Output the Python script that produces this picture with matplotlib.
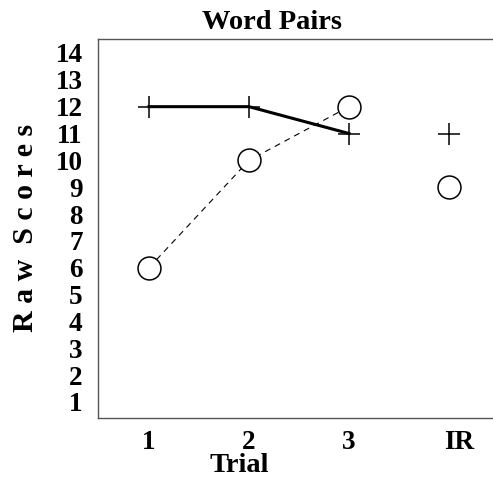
import matplotlib
matplotlib.use("Agg")
import matplotlib.pyplot as plt
import matplotlib.transforms as mtransforms

# Data
trials = ["1", "2", "3", "IR"]
x_pos = [1, 2, 3, 4]
plus_scores = [12, 12, 11, 11]
circle_scores = [6, 10, 12, 9]

plt.rcParams['font.family'] = ['Liberation Serif', 'DejaVu Serif']
plt.rcParams['font.weight'] = 'bold'

W, H = 493, 478
fig = plt.figure(figsize=(W / 100, H / 100), dpi=100)
# axes runs a bit past the right edge of the image, like the original
ax = fig.add_axes([98 / W, 60 / H, 402 / W, 379 / H])

# connected lines for trials 1-3 only
ax.plot(x_pos[:3], plus_scores[:3], color='black', linewidth=2.2, zorder=2)
ax.plot(x_pos[:3], circle_scores[:3], color='black', linewidth=0.8,
        linestyle=(0, (5.4, 4.5)), zorder=2)

# markers
ax.plot(x_pos, plus_scores, linestyle='none', marker='+', markersize=16.5,
        markeredgewidth=1.1, color='black', zorder=3)
ax.plot(x_pos, circle_scores, linestyle='none', marker='o', markersize=16.5,
        markeredgewidth=1.1, markerfacecolor='white', markeredgecolor='black', zorder=3)

ax.set_xlim(0.49, 4.51)
ax.set_ylim(0.404, 14.52)
ax.set_xticks(x_pos)
ax.set_xticklabels(trials)
ax.set_yticks(range(1, 15))
ax.tick_params(length=0, labelsize=19.5)
ax.tick_params(axis='x', pad=8.5)
ax.tick_params(axis='y', pad=11)

# "IR" sits a little right of its tick in the original
ir_label = ax.get_xticklabels()[3]
ir_label.set_transform(ir_label.get_transform() +
                       mtransforms.ScaledTranslation(0.10, 0, fig.dpi_scale_trans))

# titles placed where they sit in the original
fig.text(272 / W, 1 - 29 / H, "Word Pairs", fontsize=20.5, fontweight='bold',
         ha='center', va='baseline')
fig.text(239 / W, 1 - 472 / H, "Trial", fontsize=20.5, fontweight='bold',
         ha='center', va='baseline')
fig.text(33 / W, 1 - 227.5 / H, "R a w  S c o r e s", fontsize=21.5, fontweight='bold',
         ha='center', va='baseline', rotation=90, rotation_mode='anchor')

for side in ['top', 'left', 'bottom']:
    ax.spines[side].set_linewidth(1.0)
    ax.spines[side].set_color('#555555')
ax.spines['right'].set_visible(False)

fig.savefig("out.png", dpi=100)
